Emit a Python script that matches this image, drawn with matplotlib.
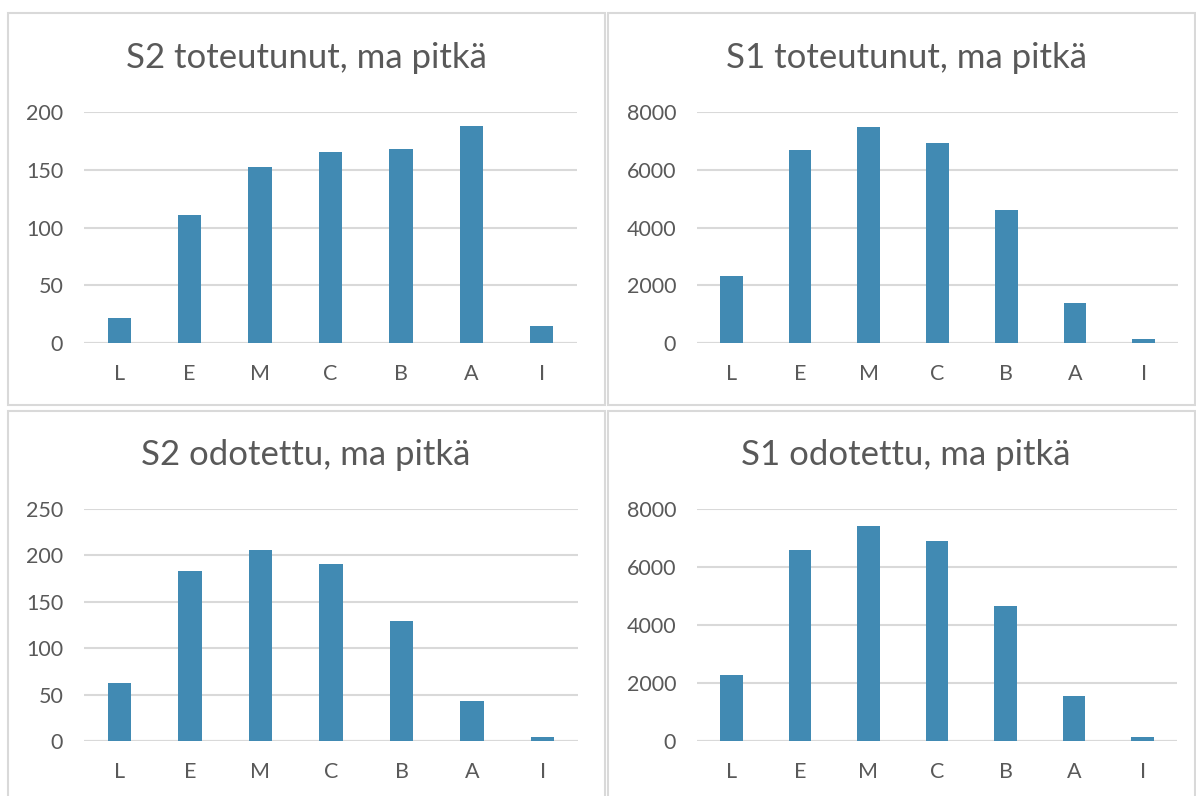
import matplotlib.pyplot as plt
from matplotlib.patches import Rectangle

plt.rcParams['font.family'] = ['Lato', 'DejaVu Sans']

categories = ['L', 'E', 'M', 'C', 'B', 'A', 'I']

s2_toteutunut = [22, 111, 152, 165, 168, 188, 15]
s1_toteutunut = [2330, 6670, 7490, 6940, 4620, 1400, 130]
s2_odotettu = [63, 183, 206, 191, 129, 43, 4]
s1_odotettu = [2270, 6590, 7410, 6880, 4640, 1540, 140]

titles = ['S2 toteutunut, ma pitkä', 'S1 toteutunut, ma pitkä',
          'S2 odotettu, ma pitkä', 'S1 odotettu, ma pitkä']
yticks_s2_tot = [0, 50, 100, 150, 200]
yticks_s1 = [0, 2000, 4000, 6000, 8000]
yticks_s2_odo = [0, 50, 100, 150, 200, 250]

W, H = 1196, 796
bar_color = '#418AB3'
grid_color = '#D9D9D9'
text_color = '#595959'

fig = plt.figure(figsize=(W / 100, H / 100), dpi=100)


def px_axes(left, top, right, bottom):
    return fig.add_axes([left / W, 1 - bottom / H, (right - left) / W, (bottom - top) / H])


panels = [
    # data, yticks, axes box (px), title centre (px), panel border (px)
    (s2_toteutunut, yticks_s2_tot, (84, 112, 577, 343), (306, 58), (8, 13, 605, 405)),
    (s1_toteutunut, yticks_s1, (697, 112, 1178, 343), (907, 58), (608, 13, 1195, 405)),
    (s2_odotettu, yticks_s2_odo, (84, 509, 578, 741), (306, 455), (8, 411, 605, 800)),
    (s1_odotettu, yticks_s1, (697, 509, 1177, 741), (906, 455), (608, 411, 1195, 800)),
]

for (vals, yt, box, tpos, border), title in zip(panels, titles):
    # light frame round each chart
    bx0, by0, bx1, by1 = border
    fig.patches.append(Rectangle((bx0 / W, 1 - by1 / H), (bx1 - bx0) / W, (by1 - by0) / H,
                                 transform=fig.transFigure, fill=False,
                                 edgecolor=grid_color, linewidth=1.5))
    ax = px_axes(*box)
    x = range(len(categories))
    ax.bar(x, vals, width=0.33, color=bar_color, zorder=3)
    ax.set_xlim(-0.5, len(categories) - 0.5)
    ax.set_ylim(0, yt[-1])
    ax.set_yticks(yt)
    ax.set_xticks(list(x))
    ax.set_xticklabels(categories)
    ax.yaxis.grid(True, color=grid_color, linewidth=1.5, zorder=0)
    ax.set_axisbelow(True)
    for s in ax.spines.values():
        s.set_visible(False)
    ax.axhline(0, color=grid_color, linewidth=1.5, zorder=1)
    ax.tick_params(axis='both', length=0, labelsize=15.5, colors=text_color)
    ax.tick_params(axis='y', pad=15)
    ax.tick_params(axis='x', pad=15)
    fig.text(tpos[0] / W, 1 - tpos[1] / H, title, ha='center', va='center',
             fontsize=25, color=text_color)

fig.savefig('out.png', dpi=100)
